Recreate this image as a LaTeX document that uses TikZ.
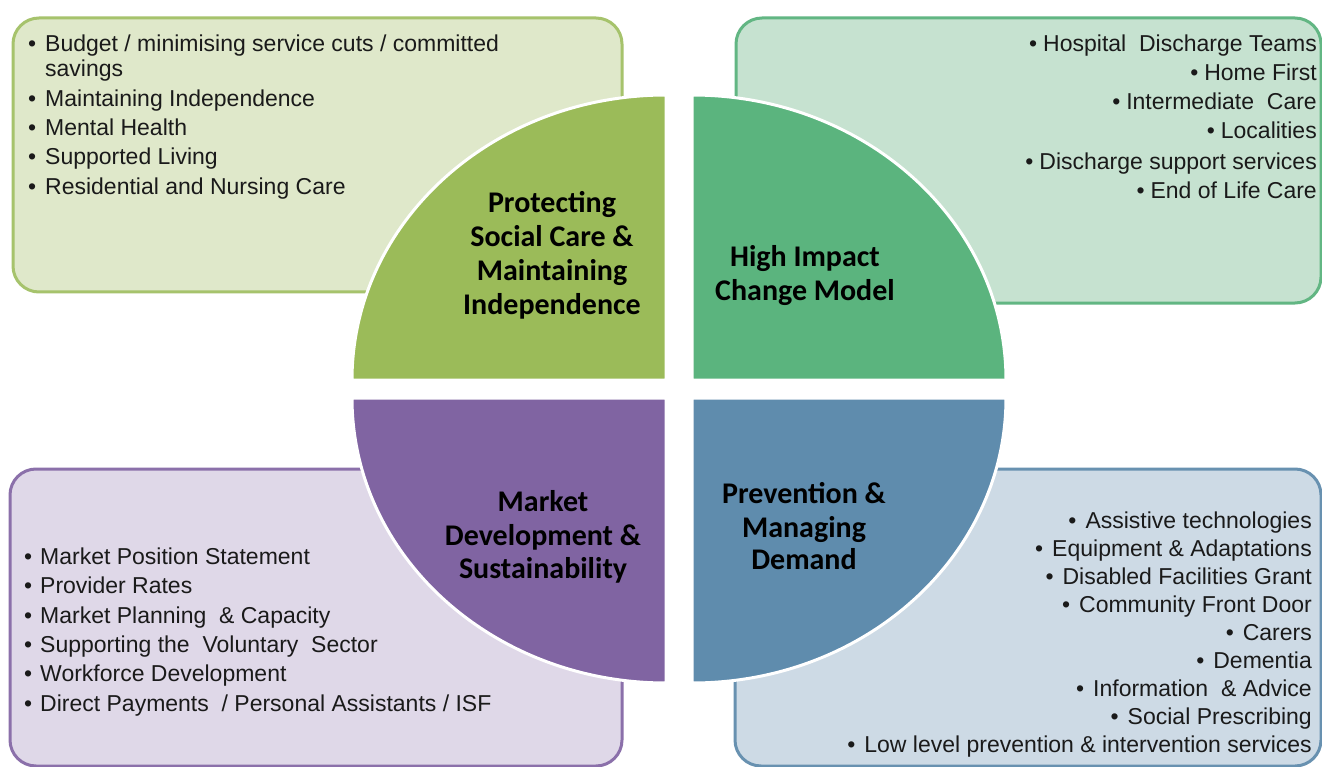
\documentclass[tikz,border=0pt]{standalone}
\usepackage{fontspec}
\setmainfont{Liberation Sans}
\newfontfamily\labelfont{Carlito}
\definecolor{tlq}{HTML}{9BBB59}
\definecolor{tlf}{HTML}{DFE8CA}
\definecolor{tlb}{HTML}{A6C36C}
\definecolor{trq}{HTML}{5BB47E}
\definecolor{trf}{HTML}{C6E2D0}
\definecolor{trb}{HTML}{62B683}
\definecolor{blq}{HTML}{8064A2}
\definecolor{blf}{HTML}{DFD8E8}
\definecolor{blb}{HTML}{8B70AA}
\definecolor{brq}{HTML}{5F8CAD}
\definecolor{brf}{HTML}{CDDAE5}
\definecolor{brb}{HTML}{6891B0}
\definecolor{txt}{HTML}{1A1A1A}
\begin{document}
\begin{tikzpicture}[x=1pt,y=-1pt,
  box/.style={rounded corners=26pt, line width=3pt},
  quad/.style={draw=white, line width=3pt},
  item/.style={font=\fontsize{23}{27}\selectfont, inner sep=0pt, text=txt},
  lbl/.style={font=\labelfont\bfseries\fontsize{30}{34}\selectfont, inner sep=0pt, anchor=base, text=black}]
\useasboundingbox (0,0) rectangle (1322,767);
\fill[white] (0,0) rectangle (1322,767);
% boxes
\draw[box, draw=tlb, fill=tlf] (13,18) rectangle (622,292);
\draw[box, draw=trb, fill=trf] (736,18) rectangle (1321,303);
\draw[box, draw=blb, fill=blf] (10,469) rectangle (622,766);
\draw[box, draw=brb, fill=brf] (735,469) rectangle (1321,766);
% quadrants
\filldraw[quad, fill=tlq] (666,380) -- (352,380) arc[start angle=180, end angle=270, x radius=314, y radius=285] -- cycle;
\filldraw[quad, fill=trq] (692,380) -- (692,95) arc[start angle=270, end angle=360, x radius=314, y radius=285] -- cycle;
\filldraw[quad, fill=blq] (666,398) -- (352,398) arc[start angle=180, end angle=90, x radius=314, y radius=285] -- cycle;
\filldraw[quad, fill=brq] (692,398) -- (1006,398) arc[start angle=0, end angle=90, x radius=314, y radius=285] -- cycle;
% top-left list
\foreach \y/\t [count=\i] in {52/{Budget / minimising service cuts / committed}, 107/{Maintaining Independence}, 136/{Mental Health}, 165/{Supported Living}, 195/{Residential and Nursing Care}}
  \node[item, anchor=base west] (tl\i) at (28,\y) {\makebox[17pt][l]{•}\t};
\node[item, anchor=base west] (tlw) at (45,77) {savings};
% top-right list
\foreach \y/\t [count=\i] in {52/{Hospital\ \ Discharge Teams}, 81/{Home First}, 110/{Intermediate\ \ Care}, 139/{Localities}, 170/{Discharge support services}, 199/{End of Life Care}}
  \node[item, anchor=base east] (tr\i) at (1317,\y) {•\hspace{6pt}\t};
% bottom-left list
\foreach \y/\t [count=\i] in {564/{Market Position Statement}, 593/{Provider Rates}, 623/{Market Planning\ \ \& Capacity}, 652/{Supporting the\ \ Voluntary\ \ Sector}, 681/{Workforce Development}, 711/{Direct Payments\ \ / Personal Assistants / ISF}}
  \node[item, anchor=base west] (bl\i) at (24,\y) {\makebox[16pt][l]{•}\t};
% bottom-right list
\foreach \y/\t [count=\i] in {528/{Assistive technologies}, 556/{Equipment \& Adaptations}, 584/{Disabled Facilities Grant}, 612/{Community Front Door}, 640/{Carers}, 668/{Dementia}, 696/{Information\ \ \& Advice}, 724/{Social Prescribing}, 752/{Low level prevention \& intervention services}}
  \node[item, anchor=base east] (br\i) at (1312,\y) {•\hspace{9pt}\t};
% labels
\node[lbl] (ta) at (552,213) {Protecting};
\node[lbl] (tb) at (552,247) {Social Care \&};
\node[lbl] (tc) at (552,280) {Maintaining};
\node[lbl] (td) at (552,314) {Independence};
\node[lbl] (ra) at (805,267) {High Impact};
\node[lbl] (rb) at (805,301) {Change Model};
\node[lbl] (ma) at (543,511) {Market};
\node[lbl] (mb) at (543,545) {Development \&};
\node[lbl] (mc) at (543,578) {Sustainability};
\node[lbl] (pa) at (804,503) {Prevention \&};
\node[lbl] (pb) at (804,537) {Managing};
\node[lbl] (pc) at (804,569) {Demand};
\end{tikzpicture}
\end{document}
